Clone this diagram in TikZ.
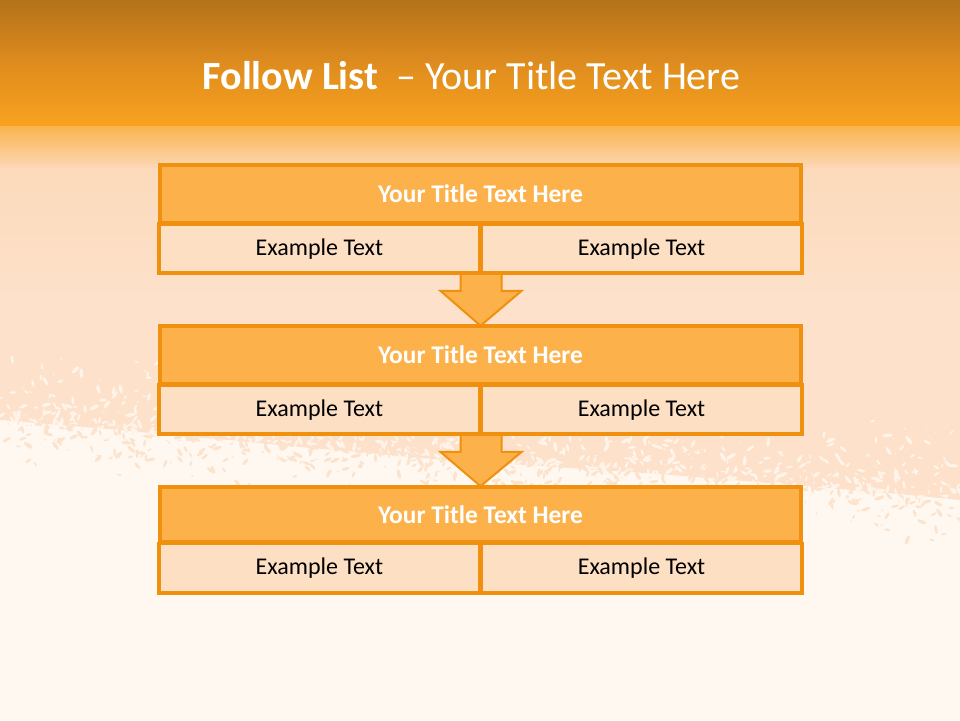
\documentclass[tikz,border=0pt]{standalone}
\usepackage{fontspec}
\setmainfont{Carlito}
\usetikzlibrary{calc}
\definecolor{hdrtop}{HTML}{B4721A}
\definecolor{hdrmid}{HTML}{DD8B1E}
\definecolor{hdrbot}{HTML}{F9A31F}
\definecolor{peachA}{HTML}{FCDABB}
\definecolor{peachB}{HTML}{FDE1CA}
\definecolor{peachC}{HTML}{FCE3CE}
\definecolor{lightbg}{HTML}{FFF8F0}
\definecolor{holec}{HTML}{FEF4EA}
\definecolor{obord}{HTML}{EF900F}
\definecolor{otitle}{HTML}{FDB14B}
\definecolor{ocell}{HTML}{FDDFC4}
\begin{document}
\begin{tikzpicture}[x=1pt,y=-1pt,
  hdr/.style={draw=obord, fill=otitle, line width=2.6pt, minimum width=639pt, minimum height=56pt,
    inner sep=0pt, text=white, font=\bfseries\fontsize{25.4}{30}\selectfont},
  cell/.style={draw=obord, fill=ocell, line width=2.6pt, minimum width=319.5pt, minimum height=48pt,
    inner sep=0pt, text=black, font=\fontsize{24}{28}\selectfont},
  flowarrow/.style={draw=obord, fill=otitle, line width=2pt, line join=miter}]
\useasboundingbox (0,0) rectangle (960,720);
% background
\fill[lightbg] (0,0) rectangle (960,720);
\fill[peachB] (0,150) -- (960,150) -- (960,500)
  -- (900,494) -- (840,489) -- (780,484) -- (720,479) -- (660,474) -- (600,470) -- (540,466)
  -- (480,462) -- (420,458) -- (360,452) -- (300,447) -- (240,441) -- (180,436) -- (120,430)
  -- (60,425) -- (0,420) -- cycle;
\fill[top color=hdrtop, bottom color=hdrmid] (0,0) rectangle (960,61);
\fill[top color=hdrmid, bottom color=hdrbot] (0,60) rectangle (960,127);
\fill[top color=hdrbot!70!peachA, bottom color=peachA] (0,126) rectangle (960,170);
\fill[top color=peachA, bottom color=peachB] (0,169) rectangle (960,300);
\pgfmathsetseed{11}
\foreach \i in {1,...,650}{
  \pgfmathsetmacro\xx{rnd*960}
  \pgfmathsetmacro\yc{420+\xx*0.083}
  \pgfmathsetmacro\yy{\yc-(rnd*rnd)*75}
  \pgfmathsetmacro\rr{0.6+rnd*1.8}
  \pgfmathsetmacro\ang{rnd*180}
  \fill[holec, rotate around={\ang:(\xx,\yy)}] (\xx,\yy) ellipse[x radius=\rr*2.2, y radius=\rr*0.8];
}
\foreach \i in {1,...,450}{
  \pgfmathsetmacro\xx{rnd*960}
  \pgfmathsetmacro\yc{420+\xx*0.083}
  \pgfmathsetmacro\yy{\yc+(rnd*rnd)*55}
  \pgfmathsetmacro\rr{0.6+rnd*1.8}
  \pgfmathsetmacro\ang{rnd*180}
  \fill[peachC, rotate around={\ang:(\xx,\yy)}] (\xx,\yy) ellipse[x radius=\rr*2.2, y radius=\rr*0.8];
}
% title
\node[text=white, font=\fontsize{40}{46}\selectfont] (title) at (471.5,76)
  {\textbf{Follow List}\ \ – Your Title Text Here};
% boxes
\node[hdr] (t1) at (480.5,194) {Your Title Text Here};
\node[cell, anchor=north east] (l1) at (t1.south) {Example Text};
\node[cell, anchor=north west] (r1) at (t1.south) {Example Text};
\node[hdr] (t2) at (480.5,355) {Your Title Text Here};
\node[cell, anchor=north east] (l2) at (t2.south) {Example Text};
\node[cell, anchor=north west] (r2) at (t2.south) {Example Text};
\node[hdr, minimum height=54pt] (t3) at (480.5,514.5) {Your Title Text Here};
\node[cell, anchor=north east] (l3) at (t3.south) {Example Text};
\node[cell, anchor=north west] (r3) at (t3.south) {Example Text};
% arrows
\foreach \a/\b in {l1/t2, l2/t3}{
  \draw[flowarrow] ($(\a.south east)+(-20,0)$) -- ($(\a.south east)+(-20,17)$)
    -- ($(\a.south east)+(-40,17)$) -- (\b.north) -- ($(\a.south east)+(41,17)$)
    -- ($(\a.south east)+(21,17)$) -- ($(\a.south east)+(21,0)$);
}
% redraw box borders on top of arrows
\foreach \n in {t1,t2,t3,l1,r1,l2,r2,l3,r3}{\draw[obord, line width=2.6pt] (\n.north west) rectangle (\n.south east);}
\end{tikzpicture}
\end{document}
